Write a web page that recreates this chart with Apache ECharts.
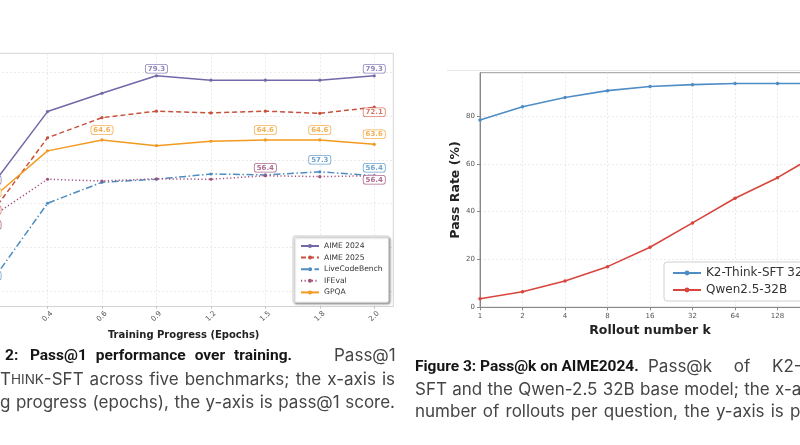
<!DOCTYPE html>
<html>
<head>
<meta charset="utf-8">
<script src="https://cdn.jsdelivr.net/npm/echarts@6/dist/echarts.min.js"></script>
<style>
  html, body { margin: 0; padding: 0; background: #fff; }
  #chart { width: 800px; height: 445px; }
</style>
</head>
<body>
<div id="chart"></div>
<script>
// figure 2 : pass@1 over training
var epochs = ['0.2', '0.4', '0.6', '0.9', '1.2', '1.5', '1.8', '2.0'];
var aime24 = [54.5, 71.1, 75.3, 79.3, 78.3, 78.3, 78.3, 79.3];
var aime25 = [48.3, 65.1, 69.7, 71.2, 70.8, 71.2, 70.7, 72.1];
var lcb    = [32.6, 50.1, 54.9, 55.6, 56.8, 56.6, 57.3, 56.4];
var ifeval = [47.2, 55.6, 55.2, 55.7, 55.6, 56.4, 56.2, 56.4];
var gpqa   = [51.4, 62.1, 64.6, 63.3, 64.3, 64.6, 64.6, 63.6];
var yTicks1 = [30, 40, 50, 60, 70, 80];

// figure 3 : pass@k on AIME2024
var ks   = ['1', '2', '4', '8', '16', '32', '64', '128', '256'];
var k2   = [78.3, 83.9, 87.7, 90.6, 92.3, 93.1, 93.6, 93.6, 93.6];
var qwen = [3.6, 6.5, 11.0, 17.0, 25.1, 35.3, 45.6, 54.2, 64.6];
var yTicks2 = [0, 20, 40, 60, 80];

var idx = epochs.map(function (e, i) { return i; });

// which points carry a value box, and where (offset from the point)
var tags = {
  'AIME 2024':     [[0, -3, -4], [3, 0, -7], [7, 0, -7]],
  'AIME 2025':     [[0, -3, -1], [7, 0, 5]],
  'LiveCodeBench': [[0, -3, -4], [6, 0, -12], [7, 0, -8]],
  'IFEval':        [[0, -3, 9], [5, 0, -8], [7, 0, 4]],
  'GPQA':          [[0, -3, -5], [2, 0, -10], [5, 0, -10], [6, 0, -10], [7, 0, -10]]
};

function trainSeries(name, vals, color, soft, dash) {
  var data = vals.map(function (v, i) {
    var item = { value: [i, v] };
    (tags[name] || []).forEach(function (t) {
      if (t[0] === i) {
        item.label = {
          show: true, position: 'inside', offset: [t[1], t[2]],
          formatter: function (p) { return p.value[1].toFixed(1); },
          color: soft, fontSize: 7, fontWeight: 'bold', fontFamily: 'DejaVu Sans',
          backgroundColor: '#fff', borderColor: soft, borderWidth: 0.8,
          borderRadius: 2, padding: [1, 2, 0, 2]
        };
      }
    });
    return item;
  });
  return {
    name: name, type: 'line', xAxisIndex: 0, yAxisIndex: 0,
    data: data, symbol: 'circle', symbolSize: 3.2,
    itemStyle: { color: color },
    lineStyle: { color: color, width: 1.5, type: dash || 'solid' },
    label: { show: false },
    emphasis: { disabled: true },
    z: 3
  };
}

// caption text styles
var capStyles = {
  b: { fontFamily: 'Roboto', fontSize: 15.5, fontWeight: 'bold', fill: '#151515' },
  n: { fontFamily: 'Inter', fontSize: 17, fontWeight: 'normal', fill: '#454545' },
  s: { fontFamily: 'Inter', fontSize: 13.5, fontWeight: 'normal', fill: '#454545' }
};
var measureCtx = document.createElement('canvas').getContext('2d');
function textW(t, st) {
  measureCtx.font = st.fontWeight + ' ' + st.fontSize + 'px ' + st.fontFamily;
  return measureCtx.measureText(t).width;
}
// tex-like stretch: a little more room after punctuation
function gapWeight(word) {
  var c = word.charAt(word.length - 1);
  if (c === '.') return 2;
  if (c === ':') return 1.5;
  if (c === ';') return 1.3;
  if (c === ',') return 1.15;
  return 1;
}

// lay out one caption line; runs = [[text, style], ...]
// fit.end: last word ends there, fit.lastStart: last word starts there
function capLine(runs, x0, y, fit) {
  var words = [[]];
  runs.forEach(function (r) {
    r[0].split(' ').forEach(function (p, k) {
      if (k > 0) words.push([]);
      if (p) words[words.length - 1].push([p, r[1]]);
    });
  });
  words = words.filter(function (w) { return w.length; });
  var widths = words.map(function (w) {
    return w.reduce(function (s, r) { return s + textW(r[0], capStyles[r[1]]); }, 0);
  });
  var txt = words.map(function (w) { return w.map(function (r) { return r[0]; }).join(''); });
  var space = textW(' ', capStyles[words[0][0][1]]);
  var n = words.length;
  var gaps = [];
  for (var i = 0; i < n - 1; i++) gaps.push(space);
  if (fit && n > 1) {
    var target = fit.end != null ? fit.end - x0 : fit.lastStart - x0 + widths[n - 1];
    var total = widths.reduce(function (a, b) { return a + b; }, 0) + space * (n - 1);
    var wsum = 0;
    for (i = 0; i < n - 1; i++) wsum += gapWeight(txt[i]);
    var extra = (target - total) / wsum;
    for (i = 0; i < n - 1; i++) gaps[i] = Math.max(2, space + extra * gapWeight(txt[i]));
  }
  var out = [];
  var x = x0;
  words.forEach(function (w, i) {
    var xx = x;
    w.forEach(function (r) {
      var st = capStyles[r[1]];
      out.push({ type: 'text', x: xx, y: y, silent: true, style: {
        text: r[0], verticalAlign: 'middle', align: 'left',
        fontFamily: st.fontFamily, fontSize: st.fontSize, fontWeight: st.fontWeight, fill: st.fill
      } });
      xx += textW(r[0], st);
    });
    x += widths[i] + (gaps[i] || 0);
  });
  return out;
}

var chart = echarts.init(document.getElementById('chart'), null, { renderer: 'canvas' });

var graphics = [
  { type: 'line', shape: { x1: 447, y1: 70.5, x2: 800, y2: 70.5 },
    style: { stroke: '#e6e6e6', lineWidth: 1 }, z: -1 }
]
  // caption of figure 2 (cut on the left)
  .concat(capLine([['2: Pass@1 performance over training.', 'b']], 5, 356, { end: 292 }))
  .concat(capLine([['Pass@1', 'n']], 334, 356))
  .concat(capLine([['T', 'n'], ['HINK', 's'], ['-SFT across five benchmarks; the x-axis is', 'n']], 0, 380, { end: 395 }))
  .concat(capLine([['g progress (epochs), the y-axis is pass@1 score.', 'n']], 0, 403, { end: 395 }))
  // caption of figure 3 (cut on the right)
  .concat(capLine([['Figure 3: Pass@k on AIME2024.', 'b']], 415, 367))
  .concat(capLine([['Pass@k of K2-T', 'n'], ['HINK', 's'], ['-', 'n']], 648, 367, { lastStart: 772 }))
  .concat(capLine([['SFT and the Qwen-2.5 32B base model; the x-axis', 'n']], 415, 390, { lastStart: 775 }))
  .concat(capLine([['number of rollouts per question, the y-axis is pass@k.', 'n']], 415, 412, { lastStart: 790 }));

var option = {
  animation: false,
  backgroundColor: '#fff',
  grid: [
    { left: -26, right: 406.7, top: 53.3, bottom: 138.5, show: true,
      borderColor: '#d4d4d4', borderWidth: 1, outerBoundsMode: 'none' },
    { left: 480, right: -20, top: 72.7, bottom: 137.7, show: true,
      borderColor: '#9a9a9a', borderWidth: 1, outerBoundsMode: 'none' }
  ],
  xAxis: [
    {
      type: 'value', gridIndex: 0, min: -0.35, max: 7.35,
      axisLine: { show: false },
      axisTick: { show: true, length: 2, customValues: idx, lineStyle: { color: '#bbb' } },
      axisLabel: {
        customValues: idx, rotate: 45, align: 'center', verticalAlign: 'middle',
        margin: 10, fontSize: 7.2, color: '#555', fontFamily: 'DejaVu Sans',
        formatter: function (v) { return epochs[v]; }
      },
      splitLine: { show: true, lineStyle: { color: '#e6e6e6', type: [2, 2], width: 0.8 } },
      name: 'Training Progress (Epochs)', nameLocation: 'middle', nameGap: 20,
      nameTextStyle: { fontSize: 10, fontWeight: 'bold', color: '#222', fontFamily: 'DejaVu Sans' }
    },
    {
      type: 'category', gridIndex: 1, data: ks, boundaryGap: false,
      axisLine: { show: true, lineStyle: { color: '#888', width: 1 } },
      axisTick: { show: true, length: 3, alignWithLabel: true, lineStyle: { color: '#888' } },
      axisLabel: { fontSize: 7, color: '#555', margin: 5, interval: 0, fontFamily: 'DejaVu Sans' },
      splitLine: { show: true, interval: 0, lineStyle: { color: '#e4e4e4', type: [2, 2], width: 0.8 } },
      name: 'Rollout number k', nameLocation: 'middle', nameGap: 11,
      nameTextStyle: { fontSize: 12.5, fontWeight: 'bold', color: '#222', fontFamily: 'DejaVu Sans' }
    }
  ],
  yAxis: [
    {
      type: 'value', gridIndex: 0, min: 26.45, max: 84.45,
      axisLine: { show: false },
      axisTick: { show: false, customValues: yTicks1 },
      axisLabel: { show: false, customValues: yTicks1 },
      splitLine: { show: true, lineStyle: { color: '#e6e6e6', type: [2, 2], width: 0.8 } }
    },
    {
      type: 'value', gridIndex: 1, min: 0, max: 98.1,
      axisLine: { show: true, lineStyle: { color: '#888', width: 1 } },
      axisTick: { show: true, length: 3, customValues: yTicks2, lineStyle: { color: '#888' } },
      axisLabel: { customValues: yTicks2, fontSize: 7, color: '#555', margin: 5, fontFamily: 'DejaVu Sans' },
      splitLine: { show: true, lineStyle: { color: '#e4e4e4', type: [2, 2], width: 0.8 } },
      name: 'Pass Rate (%)', nameLocation: 'middle', nameGap: 18,
      nameTextStyle: { fontSize: 12.5, fontWeight: 'bold', color: '#222', fontFamily: 'DejaVu Sans' }
    }
  ],
  legend: [
    {
      orient: 'vertical', left: 293, top: 236,
      data: ['AIME 2024', 'AIME 2025', 'LiveCodeBench', 'IFEval', 'GPQA'],
      itemWidth: 18, itemHeight: 5, itemGap: 3.6,
      padding: [6, 6, 6, 7],
      backgroundColor: '#fff', borderColor: '#cfcfcf', borderWidth: 1, borderRadius: 2,
      shadowBlur: 2, shadowColor: 'rgba(0,0,0,0.35)', shadowOffsetX: 1.5, shadowOffsetY: 1.5,
      textStyle: { fontSize: 7.6, color: '#333', fontFamily: 'DejaVu Sans' }
    },
    {
      orient: 'vertical', left: 664, top: 262,
      data: ['K2-Think-SFT 32B', 'Qwen2.5-32B'],
      itemWidth: 28, itemHeight: 6, itemGap: 5,
      padding: [5, 8, 5, 8],
      backgroundColor: '#fff', borderColor: '#d0d0d0', borderWidth: 1, borderRadius: 3,
      textStyle: { fontSize: 12, color: '#333', fontFamily: 'DejaVu Sans' }
    }
  ],
  series: [
    trainSeries('AIME 2024', aime24, '#7468a9', '#8d86bb'),
    trainSeries('AIME 2025', aime25, '#c9503c', '#d77a6a', [5, 3]),
    trainSeries('LiveCodeBench', lcb, '#4d8dc0', '#6fa3cd', [7, 2.5, 1.5, 2.5]),
    trainSeries('IFEval', ifeval, '#a2507c', '#ad6b90', [1.2, 2.4]),
    trainSeries('GPQA', gpqa, '#f29a1f', '#f3b055'),
    {
      name: 'K2-Think-SFT 32B', type: 'line', xAxisIndex: 1, yAxisIndex: 1,
      data: k2, symbol: 'circle', symbolSize: 3.5,
      itemStyle: { color: '#4f8dc6' }, lineStyle: { color: '#4f8dc6', width: 1.6 },
      emphasis: { disabled: true }
    },
    {
      name: 'Qwen2.5-32B', type: 'line', xAxisIndex: 1, yAxisIndex: 1,
      data: qwen, symbol: 'circle', symbolSize: 3.5,
      itemStyle: { color: '#d8453d' }, lineStyle: { color: '#d8453d', width: 1.6 },
      emphasis: { disabled: true }
    }
  ],
  graphic: graphics
};

chart.setOption(option);
</script>
</body>
</html>
